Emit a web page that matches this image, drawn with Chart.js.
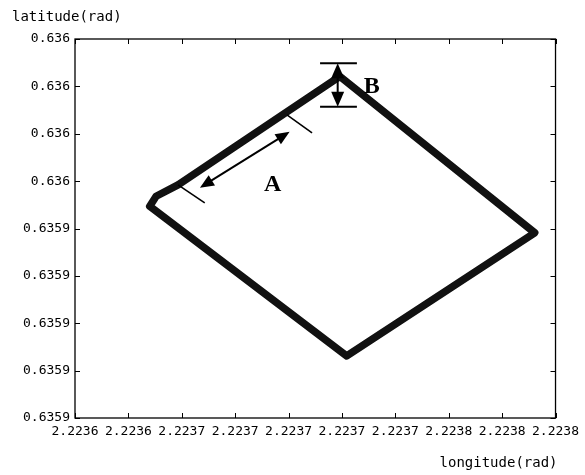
<!DOCTYPE html>
<html>
<head>
<meta charset="utf-8">
<script src="https://cdn.jsdelivr.net/npm/chart.js@4"></script>
<style>
  html, body { margin: 0; padding: 0; background: #fff; }
  #wrap { width: 585px; height: 475px; position: relative; }
</style>
</head>
<body>
<div id="wrap"><canvas id="chart"></canvas></div>
<script>
// tick labels (axis runs over tick index units)
const lonTicks = ['2.2236', '2.2236', '2.2237', '2.2237', '2.2237', '2.2237', '2.2237', '2.2238', '2.2238', '2.2238'];
const latTicks = ['0.6359', '0.6359', '0.6359', '0.6359', '0.6359', '0.636', '0.636', '0.636', '0.636'];

// vehicle path (closed loop), in tick units
const pathLon = [1.40, 1.52, 1.93, 4.96, 8.61, 5.09, 1.40];
const pathLat = [4.47, 4.68, 4.92, 7.21, 3.91, 1.31, 4.47];

// annotation A: two end markers and a double arrow
const markA1 = [[1.93, 4.92], [2.43, 4.54]];
const markA2 = [[3.97, 6.40], [4.44, 6.02]];
const arrowA = [[2.34, 4.86], [4.02, 6.04]];
const labelA = [3.70, 4.92];

// annotation B: caps and vertical double arrow
const capB = [4.59, 5.28];
const capBLat = [7.49, 6.57];
const arrowBLon = 4.92;
const labelB = [5.56, 6.99];

const monoFont = '"DejaVu Sans Mono", monospace';

function arrowHead(ctx, fx, fy, tx, ty, len, half) {
  const ang = Math.atan2(ty - fy, tx - fx);
  ctx.beginPath();
  ctx.moveTo(tx, ty);
  ctx.lineTo(tx - len * Math.cos(ang) + half * Math.sin(ang), ty - len * Math.sin(ang) - half * Math.cos(ang));
  ctx.lineTo(tx - len * Math.cos(ang) - half * Math.sin(ang), ty - len * Math.sin(ang) + half * Math.cos(ang));
  ctx.closePath();
  ctx.fill();
}

const framePlugin = {
  id: 'frame',
  afterDraw(chart) {
    const { ctx, chartArea: a, scales: { x, y } } = chart;
    ctx.save();
    ctx.strokeStyle = '#000';
    ctx.lineWidth = 1.3;
    ctx.strokeRect(a.left, a.top, a.right - a.left, a.bottom - a.top);

    // inward ticks on all four sides
    ctx.lineWidth = 1;
    ctx.beginPath();
    lonTicks.forEach((_, i) => {
      const px = Math.round(x.getPixelForValue(i)) + 0.5;
      ctx.moveTo(px, a.bottom); ctx.lineTo(px, a.bottom - 5);
      ctx.moveTo(px, a.top); ctx.lineTo(px, a.top + 5);
    });
    latTicks.forEach((_, i) => {
      const py = Math.round(y.getPixelForValue(i)) + 0.5;
      ctx.moveTo(a.left, py); ctx.lineTo(a.left + 5, py);
      ctx.moveTo(a.right, py); ctx.lineTo(a.right - 5, py);
    });
    ctx.stroke();

    // axis names
    ctx.fillStyle = '#000';
    ctx.font = '14px ' + monoFont;
    ctx.textBaseline = 'middle';
    ctx.textAlign = 'left';
    ctx.fillText('latitude(rad)', 12, 17);
    ctx.textAlign = 'right';
    ctx.fillText('longitude(rad)', a.right + 2, 463);

    const P = (p) => [x.getPixelForValue(p[0]), y.getPixelForValue(p[1])];

    // annotation A
    ctx.lineWidth = 1.6;
    [markA1, markA2].forEach((m) => {
      const s = P(m[0]), e = P(m[1]);
      ctx.beginPath(); ctx.moveTo(s[0], s[1]); ctx.lineTo(e[0], e[1]); ctx.stroke();
    });
    const as = P(arrowA[0]), ae = P(arrowA[1]);
    const ang = Math.atan2(ae[1] - as[1], ae[0] - as[0]);
    ctx.lineWidth = 2;
    ctx.beginPath();
    ctx.moveTo(as[0] + 10 * Math.cos(ang), as[1] + 10 * Math.sin(ang));
    ctx.lineTo(ae[0] - 10 * Math.cos(ang), ae[1] - 10 * Math.sin(ang));
    ctx.stroke();
    arrowHead(ctx, ae[0], ae[1], as[0], as[1], 14, 6);
    arrowHead(ctx, as[0], as[1], ae[0], ae[1], 14, 6);

    // annotation B
    const bx0 = x.getPixelForValue(capB[0]), bx1 = x.getPixelForValue(capB[1]);
    const byTop = y.getPixelForValue(capBLat[0]), byBot = y.getPixelForValue(capBLat[1]);
    const bx = x.getPixelForValue(arrowBLon);
    ctx.lineWidth = 2;
    ctx.beginPath();
    ctx.moveTo(bx0, byTop); ctx.lineTo(bx1, byTop);
    ctx.moveTo(bx0, byBot); ctx.lineTo(bx1, byBot);
    ctx.moveTo(bx, byTop + 10); ctx.lineTo(bx, byBot - 10);
    ctx.stroke();
    arrowHead(ctx, bx, byBot, bx, byTop, 15, 6.5);
    arrowHead(ctx, bx, byTop, bx, byBot, 15, 6.5);

    ctx.font = 'bold 24px "Liberation Serif", serif';
    ctx.textAlign = 'center';
    ctx.textBaseline = 'middle';
    const la = P(labelA), lb = P(labelB);
    ctx.fillText('A', la[0], la[1]);
    ctx.fillText('B', lb[0], lb[1]);
    ctx.restore();
  }
};

new Chart(document.getElementById('chart'), {
  type: 'scatter',
  data: {
    datasets: [{
      data: pathLon.map((lon, i) => ({ x: lon, y: pathLat[i] })),
      showLine: true,
      borderColor: '#111',
      borderWidth: 7.5,
      borderJoinStyle: 'round',
      borderCapStyle: 'round',
      pointRadius: 0,
      tension: 0
    }]
  },
  options: {
    responsive: true,
    maintainAspectRatio: false,
    animation: false,
    layout: { padding: { top: 39, right: 29, left: 0, bottom: 0 } },
    plugins: { legend: { display: false }, tooltip: { enabled: false } },
    scales: {
      x: {
        type: 'linear',
        min: 0,
        max: lonTicks.length - 1,
        afterFit: (scale) => { scale.height = 57; },
        grid: { display: false, drawTicks: false },
        border: { display: false },
        ticks: {
          stepSize: 1,
          autoSkip: false,
          maxRotation: 0,
          padding: 6,
          color: '#000',
          font: { family: monoFont, size: 13 },
          callback: (v) => lonTicks[v]
        }
      },
      y: {
        type: 'linear',
        min: 0,
        max: latTicks.length - 1,
        afterFit: (scale) => { scale.width = 75; },
        grid: { display: false, drawTicks: false },
        border: { display: false },
        ticks: {
          stepSize: 1,
          autoSkip: false,
          padding: 5,
          color: '#000',
          font: { family: monoFont, size: 13 },
          callback: (v) => latTicks[v]
        }
      }
    }
  },
  plugins: [framePlugin]
});
</script>
</body>
</html>
